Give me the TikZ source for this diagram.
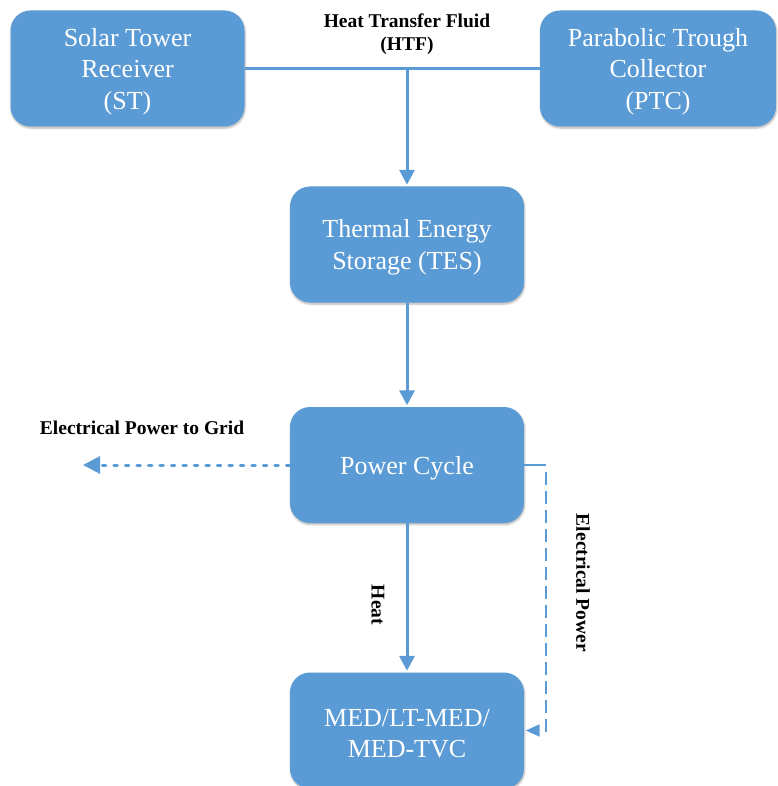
\documentclass[tikz,border=0pt]{standalone}
\usepackage{fontspec}
\setmainfont{Liberation Serif}
\usetikzlibrary{arrows.meta,shadows.blur,calc}
\definecolor{boxblue}{HTML}{5B9BD5}
\tikzset{
  stage/.style={draw=none, fill=boxblue, rounded corners=20pt,
    minimum width=234pt, minimum height=116pt,
    blur shadow={shadow xshift=0.6pt, shadow yshift=-1.6pt, shadow blur steps=6,
      shadow blur extra rounding=1pt, shadow opacity=30}},
  stagetext/.style={text=white, align=center, yshift=-3pt,
    font=\fontsize{26}{31.5}\selectfont},
  flow/.style={draw=boxblue, line width=3pt},
  flowarrow/.style={flow, -{Triangle[width=15pt,length=15pt]}},
  elecgrid/.style={draw=boxblue, line width=3pt, line cap=round,
    dash pattern=on 3.5pt off 8pt,
    -{Triangle[width=17pt,length=17pt,line cap=butt,line join=miter]}},
  elecline/.style={draw=boxblue, line width=2pt},
  elecdash/.style={elecline, dash pattern=on 13pt off 6pt},
  tag/.style={font=\fontsize{19.5}{23}\selectfont\bfseries, align=center, text=black}
}
\begin{document}
\begin{tikzpicture}[x=1pt, y=-1pt]
\useasboundingbox (0,0) rectangle (777,786);

% collectors and storage chain
\node[stage, label={[stagetext]center:{Solar Tower\\Receiver\\(ST)}}] (st) at (127.5,68.5) {};
\node[stage, minimum width=236pt,
      label={[stagetext]center:{Parabolic Trough\\Collector\\(PTC)}}] (ptc) at (658,68.5) {};
\node[stage, label={[stagetext]center:{Thermal Energy\\Storage (TES)}}] (tes) at (407,244.5) {};
\node[stage, label={[stagetext]center:{Power Cycle}}] (pc) at (407,465) {};
\node[stage, label={[stagetext]center:{MED/LT-MED/\\MED-TVC}}] (med) at (407,730.5) {};

% heat transfer fluid header
\draw[flow] (st.east) -- (ptc.west);
\coordinate (htf) at (tes.north |- st.east);
\draw[flowarrow, shorten >=1.5pt] (htf) -- (tes.north);
\node[tag] (htflabel) at (407,34) {Heat Transfer Fluid\\(HTF)};

% storage to power cycle to desalination
\draw[flowarrow, shorten >=1.5pt] (tes.south) -- (pc.north);
\draw[flowarrow, shorten >=1.5pt] (pc.south) -- (med.north);
\node[tag, rotate=-90] (heatlabel) at (378,605) {Heat};

% electricity exported to the grid
\coordinate (grid) at (83,465);
\draw[elecgrid] (pc.west) -- (grid);
\node[tag] (gridlabel) at (142,428) {Electrical Power to Grid};

% electricity supplied to the desalination unit
\coordinate (elbow) at (546,465);
\coordinate (drop) at (546,472);
\draw[elecline] (pc.east) -- (elbow);
\draw[elecdash, -{Triangle[width=12pt,length=14pt]}, shorten >=1.5pt] (drop) |- (med.east);
\node[tag, rotate=-90] (eplabel) at (583,583) {Electrical Power};
\end{tikzpicture}
\end{document}
